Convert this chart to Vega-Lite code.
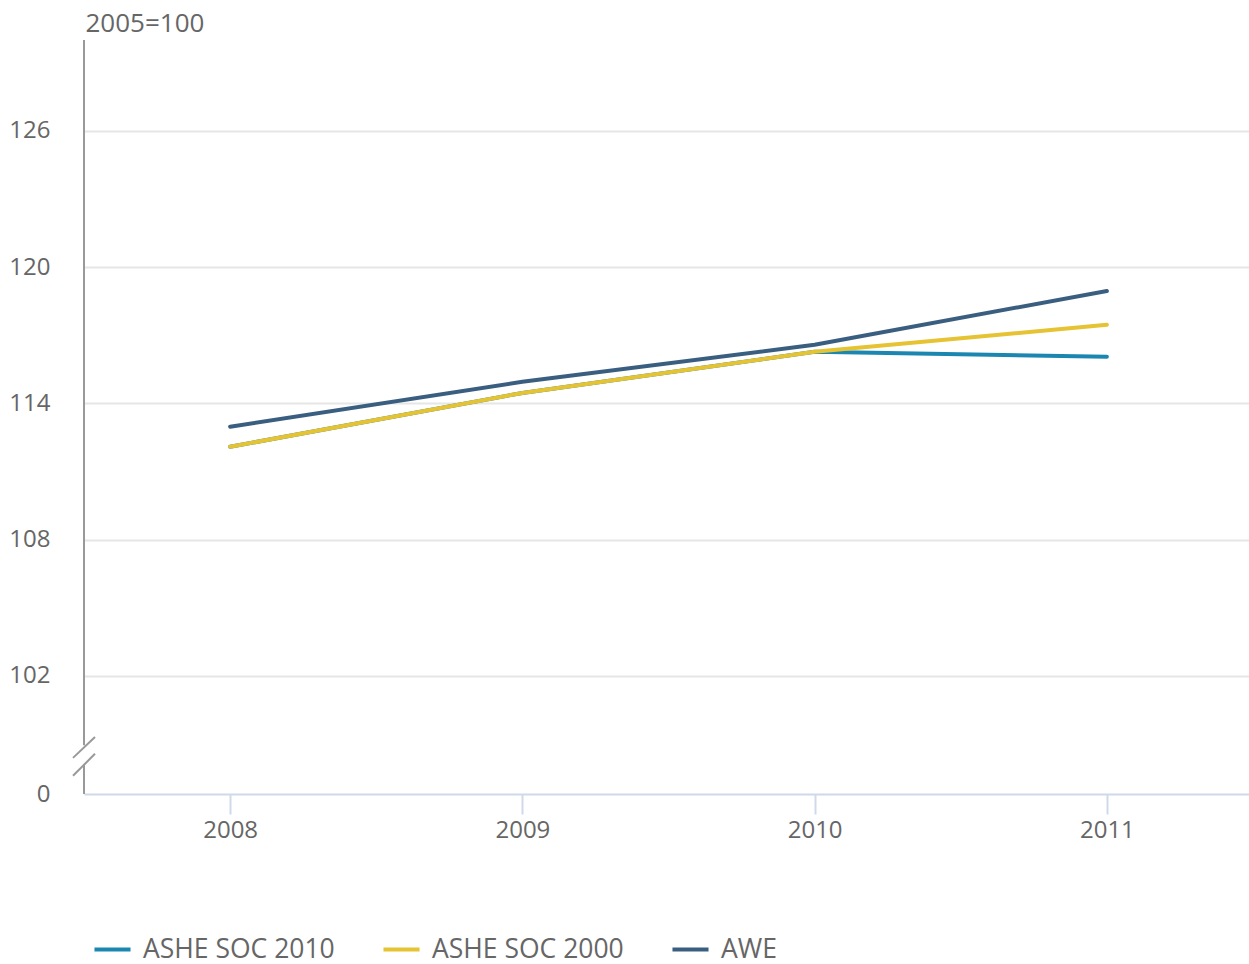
{
  "$schema": "https://vega.github.io/schema/vega-lite/v6.json",
  "autosize": {"type": "none"},
  "width": 1169,
  "height": 754,
  "padding": {"left": 84, "top": 40, "right": 0, "bottom": 170},
  "background": "white",
  "config": {
    "view": {"stroke": null},
    "font": "Open Sans",
    "axis": {"labelFont": "Open Sans", "titleFont": "Open Sans", "labelColor": "#666666", "titleColor": "#666666"},
    "legend": {"labelFont": "Open Sans"}
  },
  "layer": [
    {
      "data": {"values": [
        {"year": "2008", "series": "ASHE SOC 2010", "value": 112.09},
        {"year": "2009", "series": "ASHE SOC 2010", "value": 114.46},
        {"year": "2010", "series": "ASHE SOC 2010", "value": 116.27},
        {"year": "2011", "series": "ASHE SOC 2010", "value": 116.05},
        {"year": "2008", "series": "ASHE SOC 2000", "value": 112.09},
        {"year": "2009", "series": "ASHE SOC 2000", "value": 114.46},
        {"year": "2010", "series": "ASHE SOC 2000", "value": 116.27},
        {"year": "2011", "series": "ASHE SOC 2000", "value": 117.46},
        {"year": "2008", "series": "AWE", "value": 112.97},
        {"year": "2009", "series": "AWE", "value": 114.95},
        {"year": "2010", "series": "AWE", "value": 116.58},
        {"year": "2011", "series": "AWE", "value": 118.95}
      ]},
      "mark": {"type": "line", "strokeWidth": 4, "strokeCap": "round", "strokeJoin": "round"},
      "encoding": {
        "x": {
          "field": "year", "type": "ordinal",
          "scale": {"type": "point", "padding": 0.5},
          "axis": {
            "title": null, "labelAngle": 0, "labelFontSize": 24,
            "domainColor": "#cfd9ea", "domainWidth": 2,
            "tickColor": "#cfd9ea", "tickWidth": 2, "tickSize": 20,
            "labelPadding": 4, "grid": false
          }
        },
        "y": {
          "field": "value", "type": "quantitative",
          "scale": {"domain": [96.8, 130], "nice": false, "zero": false},
          "axis": {
            "values": [96.8, 102, 108, 114, 120, 126],
            "labelExpr": "datum.value < 100 ? '0' : datum.label",
            "labelFontSize": 24, "labelPadding": 34, "ticks": false, "domain": false,
            "grid": true, "gridColor": {"condition": {"test": "datum.value < 100", "value": "transparent"}, "value": "#e6e6e6"},
            "gridWidth": 2,
            "title": "2005=100", "titleAngle": 0, "titleAlign": "left", "titleBaseline": "alphabetic",
            "titleX": 1, "titleY": -9, "titleFontSize": 26, "titleFontWeight": "normal"
          }
        },
        "color": {
          "field": "series", "type": "nominal",
          "scale": {"domain": ["ASHE SOC 2010", "ASHE SOC 2000", "AWE"], "range": ["#1b87b1", "#e6c332", "#3a5e80"]},
          "legend": {
            "title": null, "orient": "none", "legendX": 8, "legendY": 889, "direction": "horizontal",
            "symbolType": "stroke", "symbolSize": 1300, "symbolStrokeWidth": 4,
            "labelFontSize": 26.5, "labelColor": "#666666", "labelOffset": 10, "columnPadding": 40, "labelLimit": 400
          }
        },
        "order": {"field": "series"}
      }
    },
    {
      "data": {"values": [{"a": 96.8, "b": 98.1}, {"a": 98.95, "b": 130}]},
      "mark": {"type": "rule", "color": "#999999", "strokeWidth": 2},
      "encoding": {
        "y": {"field": "a", "type": "quantitative"},
        "y2": {"field": "b"},
        "x": {"value": 0}
      }
    },
    {
      "data": {"values": [{"a": 98.39, "b": 99.31}, {"a": 97.6, "b": 98.57}]},
      "mark": {"type": "rule", "color": "#999999", "strokeWidth": 2},
      "encoding": {
        "y": {"field": "a", "type": "quantitative"},
        "y2": {"field": "b"},
        "x": {"value": -11},
        "x2": {"value": 11}
      }
    }
  ]
}
